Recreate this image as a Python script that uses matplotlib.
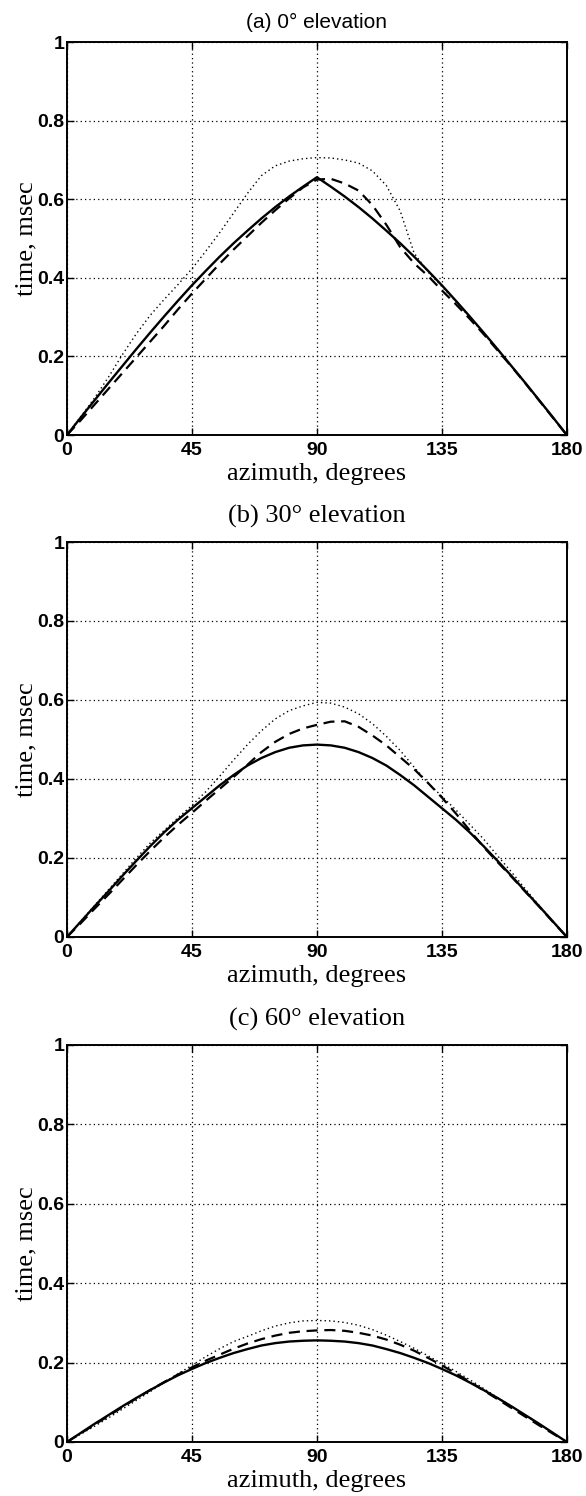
import numpy as np
import matplotlib
matplotlib.use("Agg")
import matplotlib.pyplot as plt

# DONNEES -------------------------------------------------------------------

AZIMUTH = np.arange(0, 185, 5)

TITRES = ["(a) 0° elevation", "(b) 30° elevation", "(c) 60° elevation"]
X_TICKS = [0, 45, 90, 135, 180]
Y_TICKS = [0, 0.2, 0.4, 0.6, 0.8, 1]
Y_TICK_LABELS = ["0", "0.2", "0.4", "0.6", "0.8", "1"]

solid_a = [0, .045, .089, .133, .176, .219, .261, .302, .342, .381, .418, .454, .488,
           .520, .551, .580, .607, .632, .656, .632, .607, .580, .551, .520, .488, .454,
           .418, .381, .342, .302, .261, .219, .176, .133, .089, .045, 0]
dashed_a = [0, .038, .078, .118, .158, .198, .238, .278, .320, .360, .398, .436, .472,
            .506, .540, .572, .602, .630, .650, .652, .640, .622, .585, .535, .478, .437,
            .405, .368, .333, .296, .257, .216, .175, .132, .088, .044, 0]
dotted_a = [0, .047, .095, .148, .205, .258, .305, .345, .383, .423, .468, .515, .565,
            .615, .660, .685, .697, .703, .706, .705, .700, .692, .672, .635, .570, .463,
            .415, .378, .340, .300, .259, .218, .176, .133, .089, .044, 0]

solid_b = [0, .039, .078, .116, .155, .193, .230, .265, .297, .326, .355, .384, .410,
           .434, .453, .468, .479, .485, .487, .485, .479, .468, .453, .434, .410, .384,
           .355, .326, .297, .265, .230, .193, .155, .116, .078, .039, 0]
dashed_b = [0, .035, .072, .108, .145, .182, .218, .252, .284, .314, .345, .375, .405,
            .436, .468, .494, .514, .528, .537, .545, .546, .532, .510, .485, .455, .425,
            .390, .353, .313, .270, .228, .190, .153, .115, .077, .038, 0]
dotted_b = [0, .040, .080, .120, .160, .200, .238, .270, .302, .333, .368, .407, .448,
            .487, .522, .552, .573, .585, .594, .592, .582, .565, .540, .508, .472, .430,
            .390, .356, .322, .285, .248, .206, .165, .122, .080, .040, 0]

solid_c = [0, .023, .046, .068, .090, .111, .131, .150, .168, .184, .199, .212, .224,
           .234, .243, .249, .253, .255, .256, .255, .253, .249, .243, .234, .224, .212,
           .199, .184, .168, .150, .131, .111, .090, .068, .046, .023, 0]
dashed_c = [0, .022, .044, .066, .088, .110, .131, .151, .170, .188, .205, .220, .235,
            .248, .259, .268, .275, .279, .281, .282, .280, .275, .268, .258, .245, .230,
            .212, .193, .173, .152, .130, .108, .086, .064, .042, .021, 0]
dotted_c = [0, .020, .040, .061, .083, .105, .127, .150, .172, .193, .215, .235, .253,
            .266, .280, .292, .300, .305, .306, .305, .301, .294, .283, .269, .253, .236,
            .217, .198, .178, .157, .135, .112, .090, .067, .045, .022, 0]

PANNEAUX = [(solid_a, dashed_a, dotted_a),
            (solid_b, dashed_b, dotted_b),
            (solid_c, dashed_c, dotted_c)]

# PLOT ----------------------------------------------------------------------

SERIF = "Liberation Serif"
SANS = "Liberation Sans"

fig = plt.figure(figsize=(5.86, 14.96), dpi=100)

# [gauche, bas, largeur, hauteur] en fraction de la figure
positions = [
    [0.1143, 0.7092, 0.853, 0.2627],
    [0.1143, 0.3737, 0.853, 0.2640],
    [0.1143, 0.0361, 0.853, 0.2654],
]

for i, (pos, (solid, dashed, dotted)) in enumerate(zip(positions, PANNEAUX)):
    ax = fig.add_axes(pos)
    ax.plot(AZIMUTH, dotted, color="black", lw=1.0, linestyle=(0, (1, 2.2)))
    ax.plot(AZIMUTH, dashed, color="black", lw=1.6, linestyle=(0, (5, 3)))
    ax.plot(AZIMUTH, solid, color="black", lw=1.7, linestyle="-")

    ax.set_xlim(0, 180)
    ax.set_ylim(0, 1)
    ax.set_xticks(X_TICKS)
    ax.set_yticks(Y_TICKS)
    ax.set_yticklabels(Y_TICK_LABELS)
    ax.grid(True, color="black", linestyle=(0, (1, 2.5)), lw=0.9)
    ax.tick_params(direction="in", length=5, width=1, top=True, right=True,
                   labelsize=14)
    ax.tick_params(axis="x", pad=5)
    ax.tick_params(axis="y", pad=2)
    for lab in ax.get_xticklabels() + ax.get_yticklabels():
        lab.set_fontfamily(SANS)
        lab.set_fontweight("bold")
    for sp in ax.spines.values():
        sp.set_linewidth(1.4)

    ax.set_xlabel("azimuth, degrees", family=SERIF, fontsize=19, labelpad=3)
    ax.set_ylabel("time, msec", family=SERIF, fontsize=19, labelpad=0)
    if i == 0:
        ax.set_title(TITRES[i], family=SANS, fontsize=15, pad=10)
    else:
        ax.set_title(TITRES[i], family=SERIF, fontsize=19, pad=14)

fig.savefig("out.png", dpi=100)
